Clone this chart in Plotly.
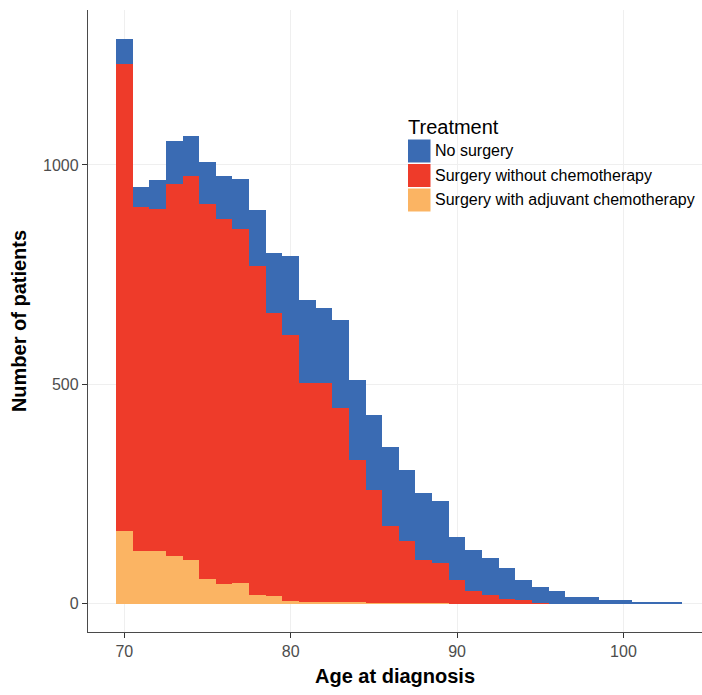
import plotly.graph_objects as go

# Age bins (1-year bins centred on integer ages)
ages = list(range(70, 104))

# Counts per treatment group
no_surgery = [57, 46, 65, 97, 91, 95, 98, 116, 129, 138,
              181, 190, 171, 201, 182, 171, 179, 161, 152, 141,
              98, 93, 84, 70, 46, 37, 28, 15, 15, 9,
              8, 4, 4, 2]
surgery_no_chemo = [1065, 783, 779, 849, 875, 856, 830, 805, 749, 645,
                    605, 497, 498, 442, 325, 257, 176, 143, 99, 92,
                    55, 30, 20, 11, 9, 2, 0, 0, 0, 0,
                    0, 0, 0, 0]
surgery_adjuvant = [165, 121, 121, 108, 100, 56, 46, 48, 20, 17,
                    7, 5, 4, 3, 3, 2, 2, 1, 1, 1,
                    0, 0, 0, 0, 0, 0, 0, 0, 0, 0,
                    0, 0, 0, 0]

group_names = ["No surgery", "Surgery without chemotherapy", "Surgery with adjuvant chemotherapy"]
group_colors = ["#3A6BB3", "#EE3B2A", "#FBB463"]

x_ticks = [70, 80, 90, 100]
y_ticks = [0, 500, 1000]

FONT = "Liberation Sans, Arial, Helvetica, sans-serif"

fig = go.Figure()
# stacking order: bottom first
for name, vals, col in [(group_names[2], surgery_adjuvant, group_colors[2]),
                        (group_names[1], surgery_no_chemo, group_colors[1]),
                        (group_names[0], no_surgery, group_colors[0])]:
    fig.add_trace(go.Bar(x=ages, y=vals, name=name, width=1,
                         marker=dict(color=col, line=dict(width=0)),
                         showlegend=False))

# manual legend (ggplot style keys)
W, H = 702, 695
ml, mr, mt, mb = 88, 0, 10, 63
pw, ph = W - ml - mr, H - mt - mb


def px(xp):
    return (xp - ml) / pw


def py(yp):
    return (H - mb - yp) / ph


fig.add_annotation(x=px(406), y=py(127), xref="paper", yref="paper", text="Treatment",
                   showarrow=False, xanchor="left", yanchor="middle",
                   font=dict(size=20, color="#000000", family=FONT))
key_tops = [139.5, 164.0, 188.5]
for i, (name, col) in enumerate(zip(group_names, group_colors)):
    y0 = key_tops[i]
    fig.add_shape(type="rect", xref="paper", yref="paper",
                  x0=px(408), x1=px(430.5), y0=py(y0 + 23), y1=py(y0),
                  fillcolor=col, line=dict(width=0))
    fig.add_annotation(x=px(433), y=py(y0 + 11.5), xref="paper", yref="paper", text=name,
                       showarrow=False, xanchor="left", yanchor="middle",
                       font=dict(size=16, color="#000000", family=FONT))

fig.update_layout(
    width=W, height=H,
    margin=dict(l=ml, r=mr, t=mt, b=mb, pad=0),
    barmode="stack", bargap=0,
    plot_bgcolor="white", paper_bgcolor="white",
    font=dict(family=FONT),
)
fig.update_xaxes(
    range=[67.82, 104.72], tickvals=x_ticks, ticktext=[str(v) for v in x_ticks],
    showline=True, linecolor="#4A4A4A", linewidth=1.3,
    ticks="outside", ticklen=5, tickcolor="#333333", tickwidth=1.2,
    tickfont=dict(size=16, color="#4D4D4D", family=FONT),
    showgrid=True, gridcolor="#EFEFEF", gridwidth=1, zeroline=False,
    title=dict(text="<b>Age at diagnosis</b>", font=dict(size=20, color="#000000", family=FONT), standoff=9),
    automargin=False,
)
fig.update_yaxes(
    range=[-64.5, 1353], tickvals=y_ticks, ticktext=[str(v) for v in y_ticks],
    showline=True, linecolor="#4A4A4A", linewidth=1.3,
    ticks="outside", ticklen=5, tickcolor="#333333", tickwidth=1.2,
    tickfont=dict(size=16, color="#4D4D4D", family=FONT),
    showgrid=True, gridcolor="#EFEFEF", gridwidth=1, zeroline=False,
    title=dict(text="<b>Number of patients</b>", font=dict(size=20, color="#000000", family=FONT), standoff=11),
    automargin=False,
)

fig.write_html("out.html", config={"displayModeBar": False},
               post_script="document.body.style.margin='0';document.body.style.overflow='hidden';")
